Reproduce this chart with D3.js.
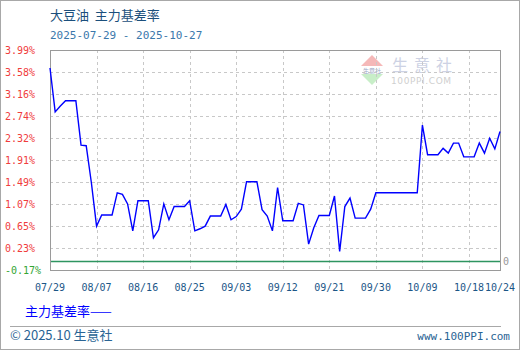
<!DOCTYPE html>
<html>
<head>
<meta charset="utf-8">
<script src="https://cdn.jsdelivr.net/npm/d3@7"></script>
<style>
  body { margin: 0; background: #fff; }
  svg { display: block; }
</style>
</head>
<body>
<div class="chart"></div>
<script>
// daily basis rate (%) from 2025-07-29 to 2025-10-24, weekends repeat friday
let startDay = "2025-07-29";
let endDay = "2025-10-24";
let values = [
  3.65, 2.82, 2.93, 3.03, 3.03, 3.03, 2.19, 2.18, 1.48, 0.66,
  0.87, 0.87, 0.87, 1.29, 1.26, 1.08, 0.57, 1.14, 1.14, 1.14,
  0.44, 0.59, 1.08, 0.78, 1.03, 1.03, 1.03, 1.14, 0.57, 0.61,
  0.66, 0.85, 0.85, 0.85, 1.07, 0.78, 0.84, 0.98, 1.50, 1.50,
  1.50, 0.97, 0.85, 0.57, 1.39, 0.76, 0.76, 0.76, 1.09, 1.06,
  0.32, 0.63, 0.86, 0.86, 0.86, 1.23, 0.18, 1.03, 1.19, 0.81,
  0.81, 0.81, 0.98, 1.29, 1.29, 1.29, 1.29, 1.29, 1.29, 1.29,
  1.29, 1.29, 2.57, 2.01, 2.01, 2.01, 2.13, 2.04, 2.23, 2.23,
  1.97, 1.97, 1.97, 2.23, 2.04, 2.32, 2.12, 2.45
];
let xTickLabels = ["07/29", "08/07", "08/16", "08/25", "09/03", "09/12",
                   "09/21", "09/30", "10/09", "10/18", "10/24"];
let yTickLabels = ["3.99%", "3.58%", "3.16%", "2.74%", "2.32%", "1.91%",
                   "1.49%", "1.07%", "0.65%", "0.23%", "-0.17%"];
let yMin = -0.17;
let yMax = 3.99;

let width = 520;
let height = 350;
let plotLeft = 50, plotRight = 500, plotTop = 50, plotBottom = 270;

let parseDay = d3.timeParse("%Y-%m-%d");
let days = d3.timeDay.range(parseDay(startDay), d3.timeDay.offset(parseDay(endDay), 1));
let data = days.map((d, i) => ({ date: d, value: values[i] }));

let x = d3.scaleTime()
  .domain([parseDay(startDay), parseDay(endDay)])
  .range([plotLeft, plotRight]);

let y = d3.scaleLinear()
  .domain([yMin, yMax])
  .range([plotBottom, plotTop]);

// tick positions: evenly split the value range, one per label
let yTicks = d3.range(yTickLabels.length).map((i) => yMax - i * (yMax - yMin) / (yTickLabels.length - 1));
let xTicks = xTickLabels.map((s) => parseDay("2025-" + s.replace("/", "-")));

let svg = d3.select(".chart").append("svg")
  .attr("width", width)
  .attr("height", height);

// outer frame
svg.append("rect")
  .attr("x", 0.5).attr("y", 0.5)
  .attr("width", width - 1).attr("height", height - 1)
  .attr("fill", "#fff")
  .attr("stroke", "#a8a8a8");

// title
svg.append("text")
  .attr("x", 50).attr("y", 20)
  .attr("font-family", "'Noto Sans CJK SC', sans-serif")
  .attr("font-size", 13)
  .attr("fill", "#1b4f7c")
  .text("大豆油\u00a0\u00a0主力基差率");

svg.append("text")
  .attr("x", 50).attr("y", 39)
  .attr("font-family", "'DejaVu Sans Mono', monospace")
  .attr("font-size", 11)
  .attr("fill", "#3b78ab")
  .text("2025-07-29 - 2025-10-27");

// watermark
let wm = svg.append("g").attr("transform", "translate(372,70)");
wm.append("path").attr("d", "M-11,-4 L0,-15 L11,-4 Z").attr("fill", "#f5b8b8");
wm.append("path").attr("d", "M-11,4 L0,15 L11,4 Z").attr("fill", "#c8eec8");
wm.append("rect").attr("x", -11).attr("y", -3.5).attr("width", 22).attr("height", 7).attr("fill", "#fff");
wm.append("text")
  .attr("x", 0).attr("y", 2.5)
  .attr("text-anchor", "middle")
  .attr("font-family", "'Noto Sans CJK SC', sans-serif")
  .attr("font-size", 6)
  .attr("fill", "#9aa6c4")
  .text("生意社");
wm.append("text")
  .attr("x", 20).attr("y", 1)
  .attr("font-family", "'Noto Sans CJK SC', sans-serif")
  .attr("font-size", 16)
  .attr("letter-spacing", 6)
  .attr("fill", "#cdd2e4")
  .text("生意社");
wm.append("text")
  .attr("x", 19).attr("y", 14)
  .attr("font-family", "'DejaVu Sans', sans-serif")
  .attr("font-size", 9)
  .attr("letter-spacing", 0.6)
  .attr("fill", "#cfcfcf")
  .text("100PPI.COM");

// grid
let grid = svg.append("g")
  .attr("stroke", "#c8c8c8")
  .attr("stroke-dasharray", "3,3");

grid.selectAll(".hgrid")
  .data(yTicks.slice(1, -1))
  .enter()
  .append("line")
  .attr("x1", plotLeft).attr("x2", plotRight)
  .attr("y1", (d) => Math.round(y(d)) + 0.5)
  .attr("y2", (d) => Math.round(y(d)) + 0.5);

grid.selectAll(".vgrid")
  .data(xTicks.slice(1, -1))
  .enter()
  .append("line")
  .attr("y1", plotTop).attr("y2", plotBottom)
  .attr("x1", (d) => Math.round(x(d)) + 0.5)
  .attr("x2", (d) => Math.round(x(d)) + 0.5);

// zero line
svg.append("line")
  .attr("x1", plotLeft).attr("x2", plotRight)
  .attr("y1", Math.round(y(0)) + 0.5).attr("y2", Math.round(y(0)) + 0.5)
  .attr("stroke", "#2e9560")
  .attr("stroke-width", 1.5);

// plot frame
svg.append("rect")
  .attr("x", plotLeft + 0.5).attr("y", plotTop + 0.5)
  .attr("width", plotRight - plotLeft).attr("height", plotBottom - plotTop)
  .attr("fill", "none")
  .attr("stroke", "#9a9a9a");

// y labels
svg.selectAll(".ylabel")
  .data(yTicks)
  .enter()
  .append("text")
  .attr("x", 5)
  .attr("y", (d) => y(d) + 3.5)
  .attr("font-family", "'DejaVu Sans Mono', monospace")
  .attr("font-size", 10)
  .attr("fill", (d, i) => i == yTicks.length - 1 ? "#33a533" : "#f03c3c")
  .text((d, i) => yTickLabels[i]);

svg.append("text")
  .attr("x", 503).attr("y", y(0) + 3.5)
  .attr("font-family", "'DejaVu Sans Mono', monospace")
  .attr("font-size", 10)
  .attr("fill", "#999")
  .text("0");

// x labels
svg.selectAll(".xlabel")
  .data(xTicks)
  .enter()
  .append("text")
  .attr("x", (d) => x(d))
  .attr("y", 291)
  .attr("text-anchor", "middle")
  .attr("font-family", "'DejaVu Sans Mono', monospace")
  .attr("font-size", 10)
  .attr("fill", "#1b5687")
  .text((d, i) => xTickLabels[i]);

// series line
let line = d3.line()
  .x((d) => x(d.date))
  .y((d) => y(d.value));

svg.append("path")
  .datum(data)
  .attr("d", line)
  .attr("fill", "none")
  .attr("stroke", "#0000ff")
  .attr("stroke-width", 1.4);

// legend
svg.append("text")
  .attr("x", 25).attr("y", 316)
  .attr("font-family", "'Noto Sans CJK SC', sans-serif")
  .attr("font-size", 13)
  .attr("fill", "#0000ff")
  .text("主力基差率——");

// footer
svg.append("line")
  .attr("x1", 10).attr("x2", 501)
  .attr("y1", 326.5).attr("y2", 326.5)
  .attr("stroke", "#a8a8a8");

svg.append("text")
  .attr("x", 10).attr("y", 340)
  .attr("font-family", "'Noto Sans CJK SC', sans-serif")
  .attr("font-size", 13)
  .attr("fill", "#2a6494")
  .text("© 2025.10 生意社");

svg.append("text")
  .attr("x", 510).attr("y", 340)
  .attr("text-anchor", "end")
  .attr("font-family", "'DejaVu Sans Mono', monospace")
  .attr("font-size", 11)
  .attr("fill", "#2a6494")
  .text("www.100PPI.com");
</script>
</body>
</html>
